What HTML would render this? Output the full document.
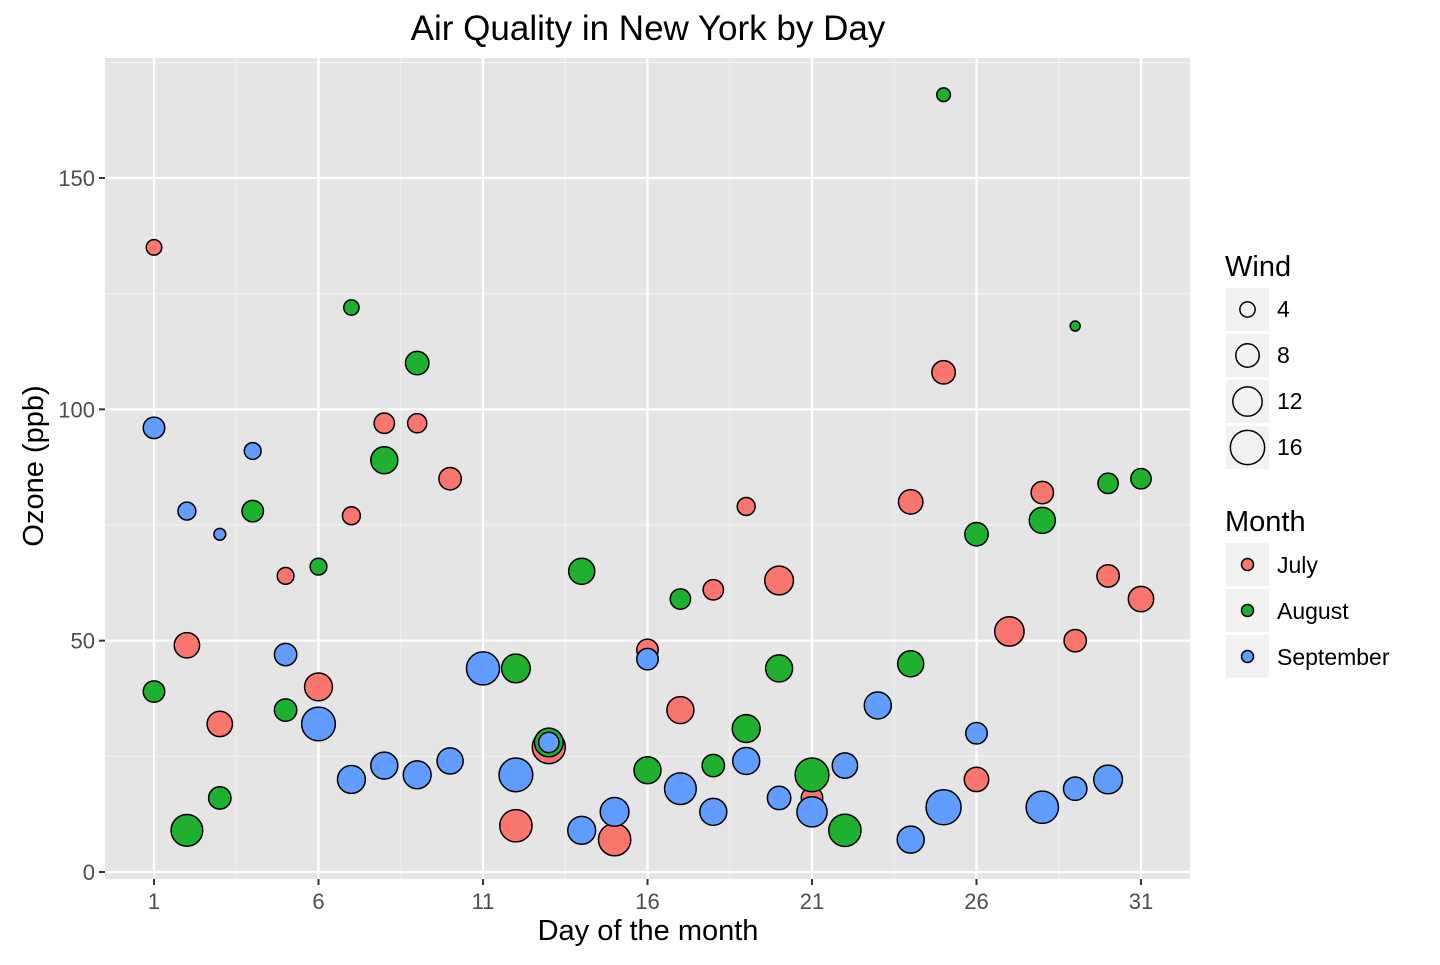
<!DOCTYPE html>
<html><head><meta charset="utf-8"><style>
body{margin:0;background:#fff;font-family:"Liberation Sans",Arial,sans-serif}
</style></head><body>
<svg id="chart" width="1440" height="960" xmlns="http://www.w3.org/2000/svg" font-family="Liberation Sans, Arial, sans-serif"></svg>
<script>
const days = Array.from({length:31},(_,i)=>i+1);
const julyOzone = [135,49,32,null,64,40,77,97,97,85,null,10,27,null,7,48,35,61,79,63,16,null,null,80,108,20,52,82,50,64,59];
const julyWind  = [4.1,9.2,9.2,10.9,4.6,10.9,5.1,6.3,5.7,7.4,8.6,14.3,14.9,14.9,14.3,6.9,10.3,6.3,5.1,11.5,6.9,9.7,11.5,8.6,8.0,8.6,12.0,7.4,7.4,7.4,9.2];
const augOzone = [39,9,16,78,35,66,122,89,110,null,null,44,28,65,null,22,59,23,31,44,21,9,null,45,168,73,null,76,118,84,85];
const augWind  = [6.9,13.8,7.4,6.9,7.4,4.6,4.0,10.3,8.0,8.6,11.5,11.5,11.5,9.7,11.5,10.3,6.3,7.4,10.9,10.3,15.5,14.3,12.6,9.7,3.4,8.0,5.7,9.7,2.3,6.3,6.3];
const sepOzone = [96,78,73,91,47,32,20,23,21,24,44,21,28,9,13,46,18,13,24,16,13,23,36,7,14,30,null,14,18,20];
const sepWind  = [6.9,5.1,2.8,4.6,7.4,15.5,10.9,10.3,10.9,9.7,14.9,15.5,6.3,10.9,11.5,6.9,13.8,10.3,10.3,8.0,12.6,9.2,10.3,10.3,16.6,6.9,13.2,14.3,8.0,11.5];
const xTicks = [1,6,11,16,21,26,31];
const yTicks = [0,50,100,150];
const windLegend = [4,8,12,16];
const monthNames = ["July","August","September"];
const monthColors = ["#F8766D","#1FB030","#619CFF"];

const svg=document.getElementById('chart');
const NS='http://www.w3.org/2000/svg';
function mk(t,a,p){const e=document.createElementNS(NS,t);for(const k in a)e.setAttribute(k,a[k]);(p||svg).appendChild(e);return e;}
const PL=105,PR=1190,PT=58,PB=879;
const xs=d=>154+(d-1)*(1141-154)/30;
const ys=v=>872-v*(872-178)/150;
const rs=w=>Math.sqrt(25+281*(w-2.3)/14.3);

const bg=mk('rect',{x:PL,y:PT,width:PR-PL,height:PB-PT,fill:'#E5E5E5'});


for(let i=0;i<xTicks.length-1;i++){const x=xs((xTicks[i]+xTicks[i+1])/2);mk('line',{x1:x,x2:x,y1:PT,y2:PB,stroke:'#F2F2F2','stroke-width':1});}
for(let i=0;i<yTicks.length;i++){const v=yTicks[i]+25;mk('line',{x1:PL,x2:PR,y1:ys(v),y2:ys(v),stroke:'#F2F2F2','stroke-width':1});}
xTicks.forEach(t=>{const x=xs(t);mk('line',{x1:x,x2:x,y1:PT,y2:PB,stroke:'#fff','stroke-width':2.2});
 mk('line',{x1:x,x2:x,y1:PB,y2:PB+6,stroke:'#333','stroke-width':2});
 const tx=mk('text',{x:x,y:PB+30,'text-anchor':'middle',style:'font-size:22px',fill:'#4D4D4D'});tx.textContent=t;
 });
yTicks.forEach(t=>{const y=ys(t);mk('line',{x1:PL,x2:PR,y1:y,y2:y,stroke:'#fff','stroke-width':2.2});
 mk('line',{x1:PL-6,x2:PL,y1:y,y2:y,stroke:'#333','stroke-width':2});
 const tx=mk('text',{x:PL-10,y:y+8,'text-anchor':'end',style:'font-size:22px',fill:'#4D4D4D'});tx.textContent=t;
 });

const series=[[julyOzone,julyWind],[augOzone,augWind],[sepOzone,sepWind]];
series.forEach((s,m)=>{s[0].forEach((v,i)=>{if(v==null)return;
 const c=mk('circle',{cx:xs(days[i]),cy:ys(v),r:rs(s[1][i]),fill:monthColors[m],stroke:'#000','stroke-width':1.5});
 
 });});

function txt(s,a,name){const t=mk('text',a);t.textContent=s;return t;}
txt('Air Quality in New York by Day',{x:648,y:40,'text-anchor':'middle',style:'font-size:35px',fill:'#000'},'chart-title');
txt('Day of the month',{x:648,y:940,'text-anchor':'middle',style:'font-size:29px',fill:'#000'},'x-axis-title');
txt('Ozone (ppb)',{x:0,y:0,transform:'translate(43,466) rotate(-90)','text-anchor':'middle',style:'font-size:29px',fill:'#000'},'y-axis-title');

txt('Wind',{x:1225,y:276,style:'font-size:29px',fill:'#000'},'wind-legend-title');
windLegend.forEach((w,i)=>{const y=288+i*46;
 const k=mk('rect',{x:1226,y:y,width:43,height:43,fill:'#F2F2F2'});
 mk('circle',{cx:1247.5,cy:y+21.5,r:rs(w),fill:'none',stroke:'#000','stroke-width':1.5});
 txt(String(w),{x:1277,y:y+29,style:'font-size:23px',fill:'#000'},'wind-legend-label');});
txt('Month',{x:1225,y:531,style:'font-size:29px',fill:'#000'},'month-legend-title');
monthNames.forEach((n,i)=>{const y=543+i*46;
 const k=mk('rect',{x:1226,y:y,width:43,height:43,fill:'#F2F2F2'});
 mk('circle',{cx:1247.5,cy:y+21.5,r:6,fill:monthColors[i],stroke:'#000','stroke-width':1.5});
 txt(n,{x:1277,y:y+30,style:'font-size:23px',fill:'#000'},'month-legend-label');});
</script>
</body></html>
